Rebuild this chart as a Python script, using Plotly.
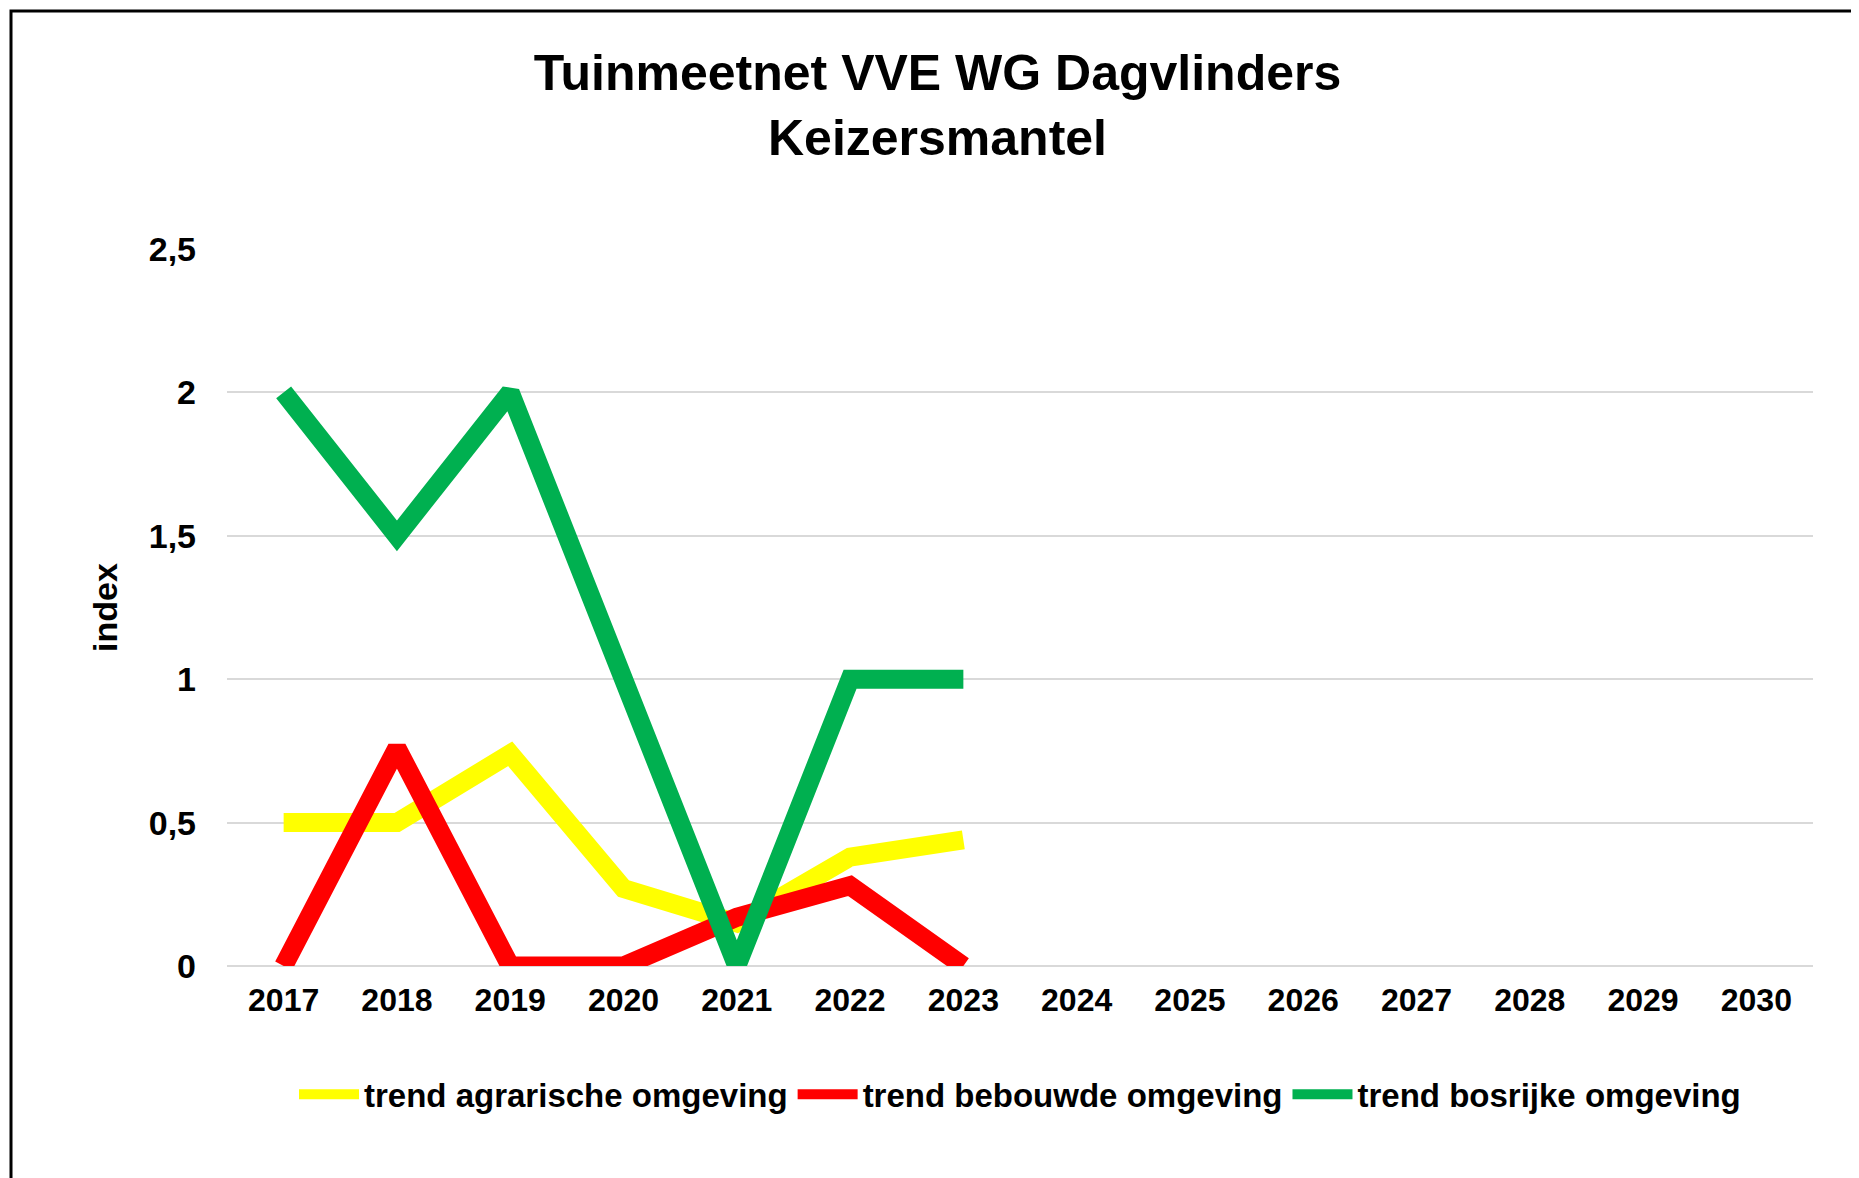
import plotly.graph_objects as go

years = [str(y) for y in range(2017, 2031)]
agrarisch = [0.5, 0.5, 0.74, 0.27, 0.15, 0.38, 0.44]
bebouwd = [0.0, 0.76, 0.0, 0.0, 0.17, 0.28, 0.0]
bosrijk = [2.0, 1.5, 2.0, 1.0, 0.0, 1.0, 1.0]
ytick_vals = [0, 0.5, 1, 1.5, 2, 2.5]
ytick_text = ["0", "0,5", "1", "1,5", "2", "2,5"]

W, H = 1859, 1178
ml, mr, mt, mb = 219, 54, 241, 220

fig = go.Figure()
series = [("trend agrarische omgeving", agrarisch, "#FFFF00"),
          ("trend bebouwde omgeving", bebouwd, "#FF0000"),
          ("trend bosrijke omgeving", bosrijk, "#00B050")]
for name, vals, col in series:
    fig.add_trace(go.Scatter(x=years[:len(vals)], y=vals, mode="lines",
                             name="<b>" + name + "</b>",
                             line=dict(color=col, width=19)))

pw, ph = W - ml - mr, H - mt - mb
fig.update_layout(
    width=W, height=H, margin=dict(l=ml, r=mr, t=mt, b=mb),
    paper_bgcolor="white", plot_bgcolor="white",
    font=dict(family="Liberation Sans", color="black"),
    title=dict(text="<b>Tuinmeetnet VVE WG Dagvlinders<br>Keizersmantel</b>",
               x=0.5, xanchor="center", y=0.93, yanchor="top",
               font=dict(size=50)),
    xaxis=dict(type="category", categoryorder="array", categoryarray=years,
               range=[-0.5, 13.5], showgrid=False, showline=False, ticks="",
               tickfont=dict(size=32), ticklabelstandoff=12,
               tickprefix="<b>", ticksuffix="</b>"),
    yaxis=dict(range=[0, 2.5], tickvals=ytick_vals,
               ticktext=["<b>" + t + "</b>" for t in ytick_text],
               gridcolor="#D9D9D9", gridwidth=2,
               zeroline=True, zerolinecolor="#D9D9D9", zerolinewidth=2,
               tickfont=dict(size=34), ticklabelstandoff=30,
               title=dict(text="<b>index</b>", font=dict(size=34), standoff=20)),
    legend=dict(orientation="h", x=0.5, xanchor="center", y=-0.14, yanchor="top",
                font=dict(size=33), itemwidth=60),
    shapes=[dict(type="rect", xref="paper", yref="paper",
                 x0=-(ml - 3) / pw, x1=1 + (mr - 3) / pw,
                 y0=-(mb - 3) / ph, y1=1 + (mt - 3) / ph,
                 line=dict(color="black", width=3))],
)

fig.write_html("out.html")
